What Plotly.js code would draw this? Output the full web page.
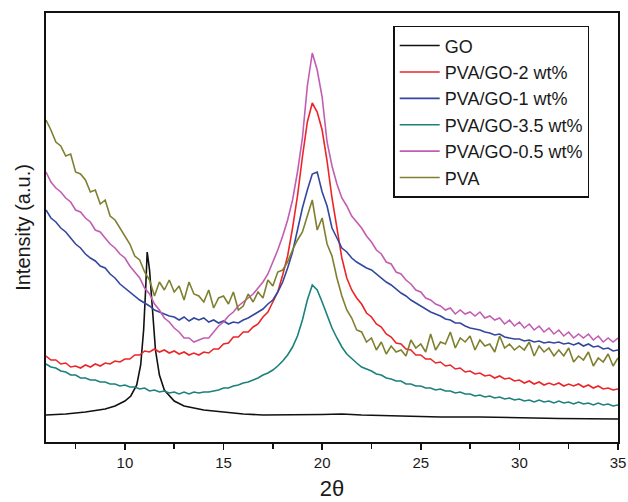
<!DOCTYPE html>
<html>
<head>
<meta charset="utf-8">
<script src="https://cdn.plot.ly/plotly-3.0.1.min.js"></script>
<style>html,body{margin:0;padding:0;background:#fff;}#chart{width:628px;height:502px;}</style>
</head>
<body>
<div id="chart"></div>
<script>
// Series names (legend order)
const seriesNames = ["GO", "PVA/GO-2 wt%", "PVA/GO-1 wt%", "PVA/GO-3.5 wt%", "PVA/GO-0.5 wt%", "PVA"];

// 2θ sampling of the PVA-based scans (degrees)
const scanX = [
  6, 6.25, 6.5, 6.75, 7, 7.25, 7.5, 7.75,
  8, 8.25, 8.5, 8.75, 9, 9.25, 9.5, 9.75,
  10, 10.25, 10.5, 10.75, 11, 11.25, 11.5, 11.75,
  12, 12.25, 12.5, 12.75, 13, 13.25, 13.5, 13.75,
  14, 14.25, 14.5, 14.75, 15, 15.25, 15.5, 15.75,
  16, 16.25, 16.5, 16.75, 17, 17.25, 17.5, 17.75,
  18, 18.25, 18.5, 18.75, 19, 19.25, 19.5, 19.75,
  20, 20.25, 20.5, 20.75, 21, 21.25, 21.5, 21.75,
  22, 22.25, 22.5, 22.75, 23, 23.25, 23.5, 23.75,
  24, 24.25, 24.5, 24.75, 25, 25.25, 25.5, 25.75,
  26, 26.25, 26.5, 26.75, 27, 27.25, 27.5, 27.75,
  28, 28.25, 28.5, 28.75, 29, 29.25, 29.5, 29.75,
  30, 30.25, 30.5, 30.75, 31, 31.25, 31.5, 31.75,
  32, 32.25, 32.5, 32.75, 33, 33.25, 33.5, 33.75,
  34, 34.25, 34.5, 34.75, 35
];

// Intensities (a.u.)
const pvaGO2 = [
  86, 82, 82, 78, 79, 75, 76, 74,
  77, 75, 78, 76, 79, 78, 81, 80,
  83, 83, 87, 87, 91, 90, 93, 90,
  92, 89, 91, 88, 90, 87, 89, 87,
  90, 89, 93, 93, 98, 99, 105, 105,
  110, 110, 115, 118, 125, 130, 140, 150,
  167, 186, 214, 246, 285, 320, 339, 330,
  312, 281, 244, 212, 184, 164, 152, 144,
  138, 129, 125, 118, 115, 108, 105, 99,
  98, 93, 92, 87, 87, 83, 83, 79,
  80, 76, 77, 73, 74, 70, 71, 68,
  69, 66, 67, 64, 66, 63, 64, 61,
  62, 59, 61, 58, 60, 57, 59, 57,
  59, 56, 58, 56, 58, 55, 57, 54,
  56, 53, 54, 52, 53
];

const pvaGO1 = [
  232, 224, 220, 214, 210, 204, 198, 194,
  188, 184, 181, 176, 174, 168, 164, 158,
  154, 150, 146, 142, 139, 136, 132, 130,
  128, 126, 125, 122, 125, 121, 124, 122,
  124, 120, 122, 119, 121, 118, 120, 119,
  122, 124, 127, 130, 133, 138, 142, 150,
  160, 174, 190, 212, 234, 252, 268, 270,
  250, 236, 214, 204, 194, 190, 184, 180,
  177, 174, 172, 168, 164, 160, 157, 153,
  149, 146, 142, 139, 136, 133, 130, 128,
  126, 123, 122, 119, 119, 116, 114, 113,
  112, 110, 109, 107, 108, 105, 104, 103,
  103, 101, 102, 100, 101, 99, 100, 99,
  100, 98, 99, 97, 99, 96, 98, 95,
  96, 93, 94, 91, 92
];

const pvaGO35 = [
  78, 75, 74, 71, 70, 67, 67, 64,
  64, 62, 62, 60, 60, 58, 58, 56,
  57, 55, 55, 53, 54, 51, 52, 50,
  51, 49, 50, 48, 50, 48, 50, 49,
  50, 50, 51, 52, 54, 54, 56, 57,
  59, 60, 62, 64, 67, 69, 72, 76,
  81, 87, 95, 106, 122, 142, 157, 152,
  140, 126, 114, 104, 95, 88, 83, 79,
  75, 73, 71, 68, 67, 64, 63, 61,
  61, 58, 58, 56, 56, 54, 54, 52,
  53, 51, 51, 49, 50, 48, 48, 46,
  47, 45, 46, 44, 45, 43, 44, 42,
  43, 41, 42, 40, 42, 40, 41, 39,
  41, 39, 40, 38, 40, 38, 39, 37,
  39, 37, 38, 36, 37
];

const pvaGO05 = [
  270, 260, 254, 250, 244, 240, 232, 230,
  224, 220, 212, 210, 204, 198, 194, 188,
  184, 176, 170, 164, 154, 148, 138, 132,
  124, 120, 114, 110, 104, 104, 100, 102,
  104, 104, 110, 116, 120, 126, 130, 136,
  140, 144, 148, 154, 160, 168, 180, 192,
  206, 222, 242, 270, 304, 356, 389, 372,
  345, 300, 276, 258, 244, 236, 226, 220,
  214, 206, 200, 192, 188, 180, 178, 170,
  168, 162, 158, 152, 150, 144, 142, 138,
  136, 132, 134, 128, 132, 128, 130, 126,
  130, 124, 126, 122, 124, 118, 122, 116,
  120, 114, 118, 112, 116, 110, 114, 108,
  112, 106, 110, 104, 108, 104, 108, 102,
  106, 100, 104, 100, 104
];

const pva = [
  322, 312, 300, 296, 286, 288, 270, 268,
  262, 250, 252, 238, 242, 226, 222, 214,
  206, 198, 186, 182, 170, 162, 146, 160,
  152, 162, 150, 156, 142, 160, 148, 146,
  140, 152, 134, 144, 146, 138, 150, 132,
  136, 148, 140, 150, 144, 162, 156, 170,
  172, 180, 192, 202, 210, 226, 242, 212,
  224, 198, 186, 164, 146, 132, 124, 112,
  110, 100, 104, 92, 100, 88, 96, 90,
  92, 86, 102, 94, 98, 90, 108, 92,
  100, 98, 110, 94, 104, 100, 106, 92,
  102, 96, 98, 90, 106, 94, 98, 92,
  96, 92, 100, 86, 96, 90, 94, 86,
  92, 86, 94, 80, 86, 82, 90, 76,
  84, 80, 88, 76, 84
];

// GO scan (sharp (001) peak near 11°)
const goX = [6, 7, 8, 9, 9.5, 10, 10.3, 10.6, 10.8, 10.95, 11.05, 11.13, 11.25, 11.4, 11.55, 11.75, 12, 12.5, 13, 14, 15, 16, 17, 18, 19, 20, 21, 22, 24, 26, 28, 30, 32, 35];
const goY = [27, 28, 30, 33, 36, 41, 46, 57, 77, 112, 152, 190, 172, 127, 92, 67, 52, 41, 36, 32, 30, 28, 27, 27, 27, 27.5, 28, 27, 26, 25, 25, 24, 23.5, 23];

const xTickVals = [10, 15, 20, 25, 30, 35];
const xTickText = ["10", "15", "20", "25", "30", "35"];

const colors = ["#111111", "#ec2528", "#34479e", "#1d807c", "#c25db3", "#7f7f30"];
const xs = [goX, scanX, scanX, scanX, scanX, scanX];
const ys = [goY, pvaGO2, pvaGO1, pvaGO35, pvaGO05, pva];

const traces = seriesNames.map((name, i) => ({
  type: "scatter",
  mode: "lines",
  name: name,
  x: xs[i],
  y: ys[i],
  line: { color: colors[i], width: 1.6 }
}));

const font = "Liberation Sans, Arial, sans-serif";
const layout = {
  width: 628,
  height: 502,
  margin: { l: 46, r: 10, t: 13, b: 60 },
  paper_bgcolor: "#ffffff",
  plot_bgcolor: "#ffffff",
  font: { family: font, color: "#1a1a1a" },
  showlegend: true,
  legend: {
    x: 0.607, y: 0.97, xanchor: "left", yanchor: "top",
    bgcolor: "rgba(255,255,255,0)",
    bordercolor: "#111", borderwidth: 1.5,
    font: { family: font, size: 18, color: "#1a1a1a" },
    tracegroupgap: 0,
    itemwidth: 40
  },
  xaxis: {
    range: [6, 35],
    tickvals: xTickVals,
    ticktext: xTickText,
    ticks: "outside",
    ticklen: 6,
    tickwidth: 1.5,
    tickcolor: "#111",
    minor: { dtick: 2.5, tick0: 7.5, ticks: "outside", ticklen: 5, tickwidth: 1.5, tickcolor: "#111" },
    showline: true, linecolor: "#111", linewidth: 2, mirror: true,
    showgrid: false, zeroline: false,
    tickfont: { family: font, size: 15, color: "#1a1a1a" },
    title: { text: "2θ", font: { family: font, size: 22, color: "#1a1a1a" }, standoff: 11 }
  },
  yaxis: {
    range: [0, 429],
    showticklabels: false,
    ticks: "",
    showline: true, linecolor: "#111", linewidth: 2, mirror: true,
    showgrid: false, zeroline: false,
    title: { text: "Intensity (a.u.)", font: { family: font, size: 20, color: "#1a1a1a" }, standoff: 8 }
  }
};

Plotly.newPlot("chart", traces, layout, { displayModeBar: false, staticPlot: true });
</script>
</body>
</html>
